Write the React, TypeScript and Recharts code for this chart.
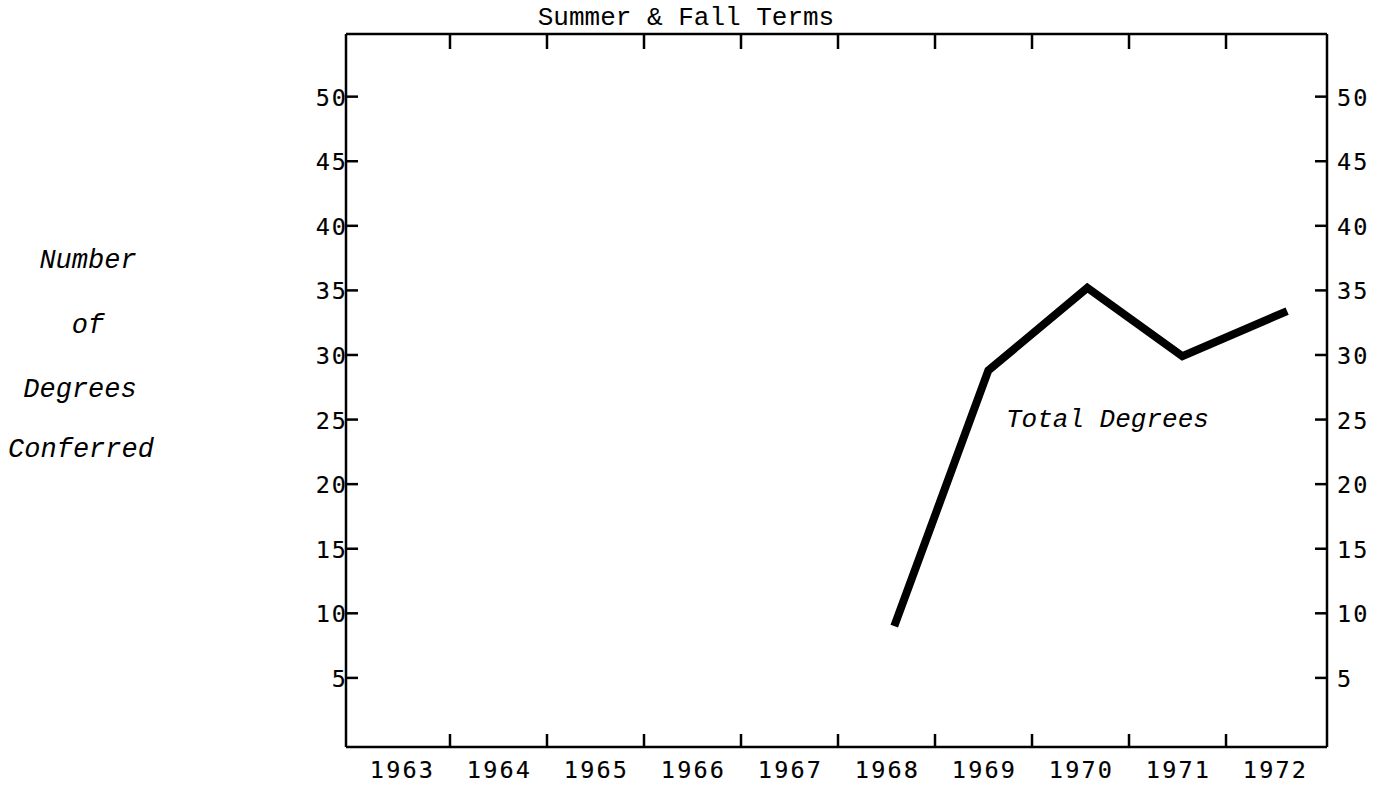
import React from 'react';
import { LineChart, Line, XAxis, YAxis, Customized } from 'recharts';

// Data
const years = [1968, 1969, 1970, 1971, 1972];
const xPositions = [1968.08, 1969.05, 1970.07, 1971.05, 1972.13];
const totalDegrees = [9, 28.8, 35.2, 29.9, 33.4];

const yearLabels = [1963, 1964, 1965, 1966, 1967, 1968, 1969, 1970, 1971, 1972];
const yTicks = [5, 10, 15, 20, 25, 30, 35, 40, 45, 50];
const yearBoundaries = [1963.5, 1964.5, 1965.5, 1966.5, 1967.5, 1968.5, 1969.5, 1970.5, 1971.5];

const title = 'Summer & Fall Terms';
const yLabelLines = ['Number', 'of', 'Degrees', 'Conferred'];
const seriesLabel = 'Total Degrees';

const data = years.map((y, i) => ({ year: y, x: xPositions[i], total: totalDegrees[i] }));
const bottomTicks = [...yearLabels, ...yearBoundaries].sort((a, b) => a - b);

const X_DOMAIN: [number, number] = [1962.428, 1972.541];
const Y_DOMAIN: [number, number] = [-0.35, 54.85];

const TICK_FONT = '"DejaVu Sans Mono", monospace';
const TYPE_FONT = '"Liberation Mono", "Courier New", monospace';
const TICK_LEN = 13;
const TICK_SIZE = 23.5;

const yLabelPos = [
  { cx: 88, by: 268 },
  { cx: 88, by: 333 },
  { cx: 80, by: 397 },
  { cx: 81, by: 457 },
];

const BottomTick = (props: any) => {
  const { x, y, payload } = props;
  const v = payload.value;
  if (Number.isInteger(v)) {
    return (
      <text x={x + 1} y={y + 31} textAnchor="middle" fontFamily={TICK_FONT} fontSize={TICK_SIZE} letterSpacing={2.2} fill="#000" stroke="#000" strokeWidth={0.15}>
        {v}
      </text>
    );
  }
  return <line x1={x} x2={x} y1={y} y2={y - TICK_LEN} stroke="#000" strokeWidth={2.5} />;
};

const TopTick = (props: any) => {
  const { x, y } = props;
  return <line x1={x} x2={x} y1={y} y2={y + TICK_LEN + 2} stroke="#000" strokeWidth={2.5} />;
};

const LeftTick = (props: any) => {
  const { x, y, payload } = props;
  return (
    <g>
      <line x1={x} x2={x + 12} y1={y} y2={y} stroke="#000" strokeWidth={2.5} />
      <text x={x + 2} y={y + 9} textAnchor="end" fontFamily={TICK_FONT} fontSize={TICK_SIZE} letterSpacing={2} fill="#000" stroke="#000" strokeWidth={0.15}>
        {payload.value}
      </text>
    </g>
  );
};

const RightTick = (props: any) => {
  const { x, y, payload } = props;
  return (
    <g>
      <line x1={x} x2={x - 12} y1={y} y2={y} stroke="#000" strokeWidth={2.5} />
      <text x={x + 10} y={y + 9} textAnchor="start" fontFamily={TICK_FONT} fontSize={TICK_SIZE} letterSpacing={2} fill="#000" stroke="#000" strokeWidth={0.15}>
        {payload.value}
      </text>
    </g>
  );
};

const Annotations = () => (
  <g>
    <text x={686} y={25} textAnchor="middle" fontFamily={TYPE_FONT} fontSize={26} fill="#000">
      {title}
    </text>
    {yLabelLines.map((t, i) => (
      <text key={t} x={yLabelPos[i].cx} y={yLabelPos[i].by} textAnchor="middle" fontFamily={TYPE_FONT} fontStyle="italic" fontSize={27} fill="#000">
        {t}
      </text>
    ))}
    <text x={1006} y={427} textAnchor="start" fontFamily={TYPE_FONT} fontStyle="italic" fontSize={26} fill="#000">
      {seriesLabel}
    </text>
  </g>
);

export default function App() {
  return (
    <div style={{ position: 'absolute', left: 0, top: 0, background: '#fff' }}>
      <LineChart width={1385} height={785} data={data} margin={{ top: 33, right: 0, bottom: 0, left: 0 }}>
        <XAxis
          xAxisId="bottom"
          dataKey="x"
          type="number"
          domain={X_DOMAIN}
          ticks={bottomTicks}
          interval={0}
          height={38}
          tickSize={0}
          tickMargin={0}
          tickLine={false}
          axisLine={{ stroke: '#000', strokeWidth: 2.5 }}
          tick={<BottomTick />}
          allowDataOverflow
        />
        <XAxis
          xAxisId="top"
          orientation="top"
          dataKey="x"
          type="number"
          domain={X_DOMAIN}
          ticks={yearBoundaries}
          interval={0}
          height={1}
          tickSize={0}
          tickMargin={0}
          tickLine={false}
          axisLine={{ stroke: '#000', strokeWidth: 2.5 }}
          tick={<TopTick />}
          allowDataOverflow
        />
        <YAxis
          yAxisId="left"
          type="number"
          domain={Y_DOMAIN}
          ticks={yTicks}
          interval={0}
          width={346}
          tickSize={0}
          tickMargin={0}
          tickLine={false}
          axisLine={{ stroke: '#000', strokeWidth: 2.5 }}
          tick={<LeftTick />}
          allowDataOverflow
        />
        <YAxis
          yAxisId="right"
          orientation="right"
          type="number"
          domain={Y_DOMAIN}
          ticks={yTicks}
          interval={0}
          width={58}
          tickSize={0}
          tickMargin={0}
          tickLine={false}
          axisLine={{ stroke: '#000', strokeWidth: 2.5 }}
          tick={<RightTick />}
          allowDataOverflow
        />
        <Line
          xAxisId="bottom"
          yAxisId="left"
          dataKey="total"
          type="linear"
          stroke="#000"
          strokeWidth={8}
          strokeLinejoin="miter"
          dot={false}
          activeDot={false}
          isAnimationActive={false}
        />
        <Customized component={Annotations} />
      </LineChart>
    </div>
  );
}
